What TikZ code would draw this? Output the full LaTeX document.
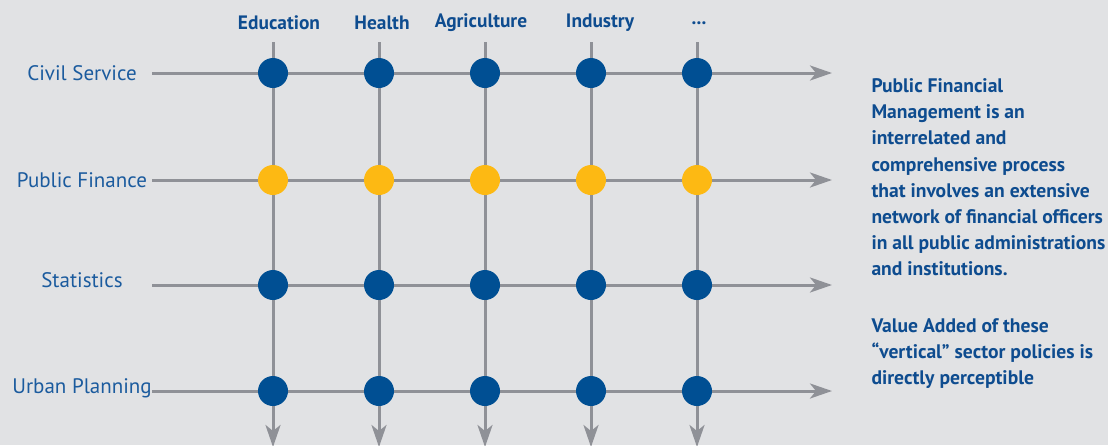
\documentclass[tikz,border=0pt]{standalone}
\usepackage{fontspec}
\setmainfont{PT Sans}
\usetikzlibrary{arrows.meta}
\definecolor{dotblue}{HTML}{004F93}
\definecolor{dotyellow}{HTML}{FDB913}
\definecolor{linegray}{HTML}{8F9197}
\definecolor{bggray}{HTML}{E1E2E4}
\definecolor{textblue}{HTML}{1B5B9E}
\definecolor{headblue}{HTML}{0E4C8F}
\begin{document}
\begin{tikzpicture}[x=0.5pt, y=-0.5pt,
                    line width=1.5pt,
                    every node/.style={text=textblue, inner sep=0pt},
                    gridline/.style={draw=linegray, -{Stealth[length=11pt, width=7.5pt, inset=3pt]}},
                    dot/.style={circle, minimum size=15pt, fill=#1},
                    rowlabel/.style={font=\fontsize{10.5}{12}\selectfont},
                    colhead/.style={font=\bfseries\fontsize{9.7}{11}\selectfont, text=headblue}]
          \useasboundingbox[fill=bggray] (0,0) rectangle (1108,445);
          % row labels and line ends
          \node[rowlabel] (civil) at (82, 73) {Civil Service};
          \node[rowlabel] (finance) at (82, 180) {Public Finance};
          \node[rowlabel] (stats) at (82, 280) {Statistics};
          \node[rowlabel] (urban) at (82, 388) {Urban Planning};
          \foreach \r/\y in {1/73, 2/180, 3/285, 4/391} {
            \coordinate (rs\r) at (152, \y);
            \coordinate (re\r) at (832, \y);
          }
          % column heads and line ends
          \node[colhead] (education) at (279, 23) {Education};
          \node[colhead] (health) at (382, 23) {Health};
          \node[colhead] (agriculture) at (481, 23) {Agriculture};
          \node[colhead] (industry) at (600, 23) {Industry};
          \node[colhead] (more) at (699, 23) {...};
          \foreach \c/\x in {1/273, 2/379, 3/485, 4/591, 5/697} {
            \coordinate (cs\c) at (\x, 42);
            \coordinate (ce\c) at (\x, 447);
          }
          \foreach \c in {1,...,5} \draw[gridline] (cs\c) -- (ce\c);
          \foreach \r in {1,...,4} \draw[gridline] (rs\r) -- (re\r);
          % crossing dots
          \foreach \c/\x in {1/273, 2/379, 3/485, 4/591, 5/697} {
            \node[dot=dotblue] (d1\c) at (\x, 73) {};
            \node[dot=dotyellow] (d2\c) at (\x, 180) {};
            \node[dot=dotblue] (d3\c) at (\x, 285) {};
            \node[dot=dotblue] (d4\c) at (\x, 391) {};
          }
          \node[anchor=north west, align=left, text=headblue,
                font=\bfseries\fontsize{9.8}{13.1}\selectfont] (pfm) at (870, 77)
            {Public Financial\\Management is an\\interrelated and\\comprehensive process\\that involves an extensive\\network of financial officers\\in all public administrations\\and institutions.\\[15pt]
             Value Added of these\\“vertical” sector policies is\\directly perceptible};
        \end{tikzpicture}
\end{document}
